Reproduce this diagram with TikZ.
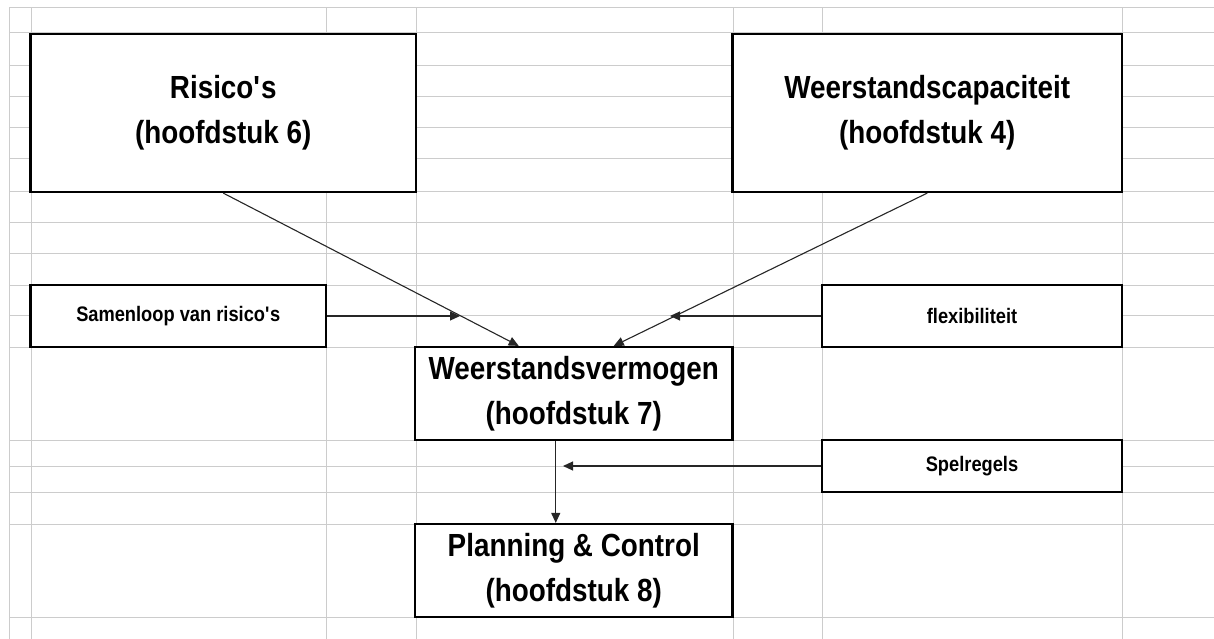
\documentclass[tikz,border=0pt]{standalone}
\usepackage{fontspec}
\newfontfamily\cellfont{Liberation Sans}[FakeStretch=0.87]
\usetikzlibrary{arrows.meta,positioning}

\begin{document}
\begin{tikzpicture}
 [x=1pt,y=-1pt,
% Box styles
    bigbox/.style={rectangle,draw=black,line width=2.2pt,fill=white,inner sep=0pt,
        align=center,font=\cellfont\fontsize{32}{45}\selectfont\bfseries},
    smallbox/.style={rectangle,draw=black,line width=2.2pt,fill=white,inner sep=0pt,
        align=center,font=\cellfont\fontsize{21}{25}\selectfont\bfseries},
% Connector style
    link/.style={draw=black!85,line width=1.1pt,-{Triangle[length=10pt,width=9pt]}},
% Sheet grid style
    cell/.style={draw=black!20,line width=1pt}
    ]
 \useasboundingbox (0,0) rectangle (1214,639);
%% Sheet grid
 \foreach \gy in {8,33,66,97,128,159,191,222,253,285,315,347,440,466,492,524,617}
    \draw[cell] (9,\gy) -- (1214,\gy);
 \foreach \gx in {9,31,326,416,733,822,1122}
    \draw[cell] (\gx,8) -- (\gx,639);
%% Draw boxes
 \node (ris)  [bigbox,minimum width=385.5pt,minimum height=158pt] at (223.25,113)
        {Risico\textquotesingle s\\(hoofdstuk 6)};
 \node (cap)  [bigbox,minimum width=389.5pt,minimum height=158pt] at (927.25,113)
        {Weerstandscapaciteit\\(hoofdstuk 4)};
 \node (sam)  [smallbox,minimum width=295.5pt,minimum height=62pt] at (178.25,316)
        {Samenloop van risico\textquotesingle s};
 \node (flex) [smallbox,minimum width=300pt,minimum height=62pt] at (972,316)
        {flexibiliteit};
 \node (wv)   [bigbox,minimum width=317.5pt,minimum height=93pt] at (573.75,393.5)
        {Weerstandsvermogen\\(hoofdstuk 7)};
 \node (spel) [smallbox,minimum width=300pt,minimum height=52pt] at (972,466)
        {Spelregels};
 \node (pc)   [bigbox,minimum width=317.5pt,minimum height=93pt] at (573.75,570.5)
        {Planning \& Control\\(hoofdstuk 8)};
%% Free ends of the side arrows
 \coordinate (j1) at (460,316);
 \coordinate (j2) at (670,316);
 \coordinate (j3) at (563,466);
%% Draw connectors
 \draw[link] (ris.south) -- ([xshift=-55pt]wv.north);
 \draw[link] (cap.south) -- ([xshift=40pt]wv.north);
 \draw[link] (sam.east) -- (j1);
 \draw[link] (flex.west) -- (j2);
 \draw[link] ([xshift=-18pt]wv.south) -- ([xshift=-18pt]pc.north);
 \draw[link] (spel.west) -- (j3);
\end{tikzpicture}
\end{document}
